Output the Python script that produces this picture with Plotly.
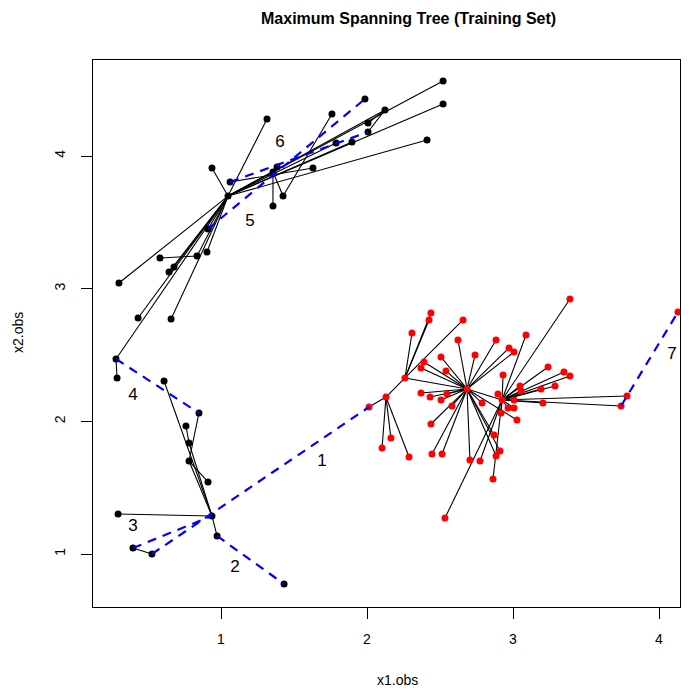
import plotly.graph_objects as go

# ---------------- data (x1.obs, x2.obs) ----------------
# upper cluster (black)
a_x1 = [1.048, 1.315, 0.938, 1.062, 1.356, 1.384, 1.425, 1.356, 1.630, 1.760,
        1.986, 2.007, 2.007, 1.897, 1.788, 2.123, 2.521, 2.521, 2.411, 0.911,
        0.904, 0.836, 0.582, 0.678, 0.644, 0.301, 0.432, 0.658, 0.281, 0.288]
a_x2 = [3.698, 4.279, 3.910, 3.804, 3.879, 3.917, 3.698, 3.623, 3.910, 4.317,
        4.430, 4.249, 4.181, 4.106, 4.098, 4.347, 4.565, 4.392, 4.121, 3.450,
        3.276, 3.246, 3.231, 3.163, 3.126, 3.043, 2.779, 2.771, 2.470, 2.327]
# lower-left cluster (black)
b_x1 = [0.610, 0.849, 0.760, 0.781, 0.781, 0.911, 0.938, 0.295, 0.973, 0.397, 0.527, 1.432]
b_x2 = [2.304, 2.063, 1.965, 1.837, 1.701, 1.543, 1.287, 1.302, 1.136, 1.045, 1.000, 0.774]
# right cluster (red); last two entries are the two hubs H1, H2
r_x1 = [2.014, 2.130, 2.103, 2.164, 2.288, 2.260, 2.308, 2.425, 2.438, 2.658,
        2.623, 2.740, 2.884, 2.973, 3.007, 2.507, 2.390, 2.370, 2.541, 2.370,
        2.432, 2.507, 2.548, 2.582, 2.438, 2.445, 2.514, 2.705, 2.774, 2.534,
        2.863, 2.884, 2.911, 2.870, 2.788, 2.897, 2.932, 3.089, 3.390, 3.240,
        3.349, 3.390, 3.288, 3.192, 3.048, 3.055, 3.007, 3.205, 2.966, 3.007,
        2.918, 3.027, 3.781, 3.740, 4.130, 2.685, 2.925]
r_x2 = [2.108, 2.183, 1.799, 1.874, 1.731, 2.327, 2.666, 2.764, 2.817, 2.764,
        2.613, 2.500, 2.613, 2.553, 2.523, 2.485, 2.447, 2.402, 2.379, 2.214,
        2.183, 2.161, 2.206, 2.116, 1.980, 1.754, 1.754, 1.709, 1.701, 1.271,
        1.565, 1.739, 1.776, 1.897, 2.138, 2.206, 2.349, 2.651, 2.922, 2.410,
        2.372, 2.342, 2.266, 2.244, 2.266, 2.229, 2.161, 2.138, 2.101, 2.101,
        2.063, 2.010, 2.191, 2.116, 2.824, 2.244, 2.161]

# tree edges within clusters (black)
black_edges = [
    "A0-A1", "A0-A2", "A3-A8", "A0-A4", "A4-A5", "A4-A6", "A6-A9", "A4-A7",
    "A0-A16", "A0-A17", "A0-A18", "A0-A15", "A0-A14", "A0-A13", "A15-A11", "A15-A12",
    "A0-A19", "A0-A20", "A0-A21", "A21-A22", "A0-A23", "A0-A24", "A0-A25", "A0-A26",
    "A0-A27", "A0-A28", "A28-A29",
    "B0-B6", "B1-B4", "B2-B3", "B3-B6", "B4-B6", "B4-B5", "B6-B7", "B6-B8", "B9-B10",
    "R0-R1", "R1-R2", "R1-R3", "R1-R4", "R1-R5", "R5-R6", "R5-R7", "R5-R8", "R5-R9", "R5-R55",
    "R55-R10", "R55-R11", "R55-R12", "R55-R13", "R55-R14", "R55-R15", "R55-R16", "R55-R17",
    "R55-R18", "R55-R19", "R55-R20", "R55-R21", "R55-R22", "R55-R23", "R55-R24", "R55-R25",
    "R55-R26", "R55-R27", "R55-R31", "R55-R32", "R55-R33", "R55-R34", "R55-R51", "R55-R56",
    "R56-R28", "R56-R29", "R56-R30", "R56-R35", "R56-R36", "R56-R37", "R56-R38", "R56-R39",
    "R56-R40", "R56-R41", "R56-R42", "R56-R43", "R56-R44", "R56-R45", "R56-R46", "R56-R47",
    "R56-R48", "R56-R49", "R56-R50", "R56-R52", "R56-R53",
]
# edges linking clusters (blue dashed), with their labels
blue_edges = ["B10-R0", "B8-B11", "B9-B6", "A28-B1", "A19-A10", "A3-A12", "R53-R54"]
blue_labels = ["1", "2", "3", "4", "5", "6", "7"]
label_x1 = [1.692, 1.096, 0.397, 0.397, 1.199, 1.404, 4.089]
label_x2 = [1.693, 0.894, 1.204, 2.191, 3.503, 4.098, 2.500]

# ---------------- figure ----------------
groups = {"A": (a_x1, a_x2), "B": (b_x1, b_x2), "R": (r_x1, r_x2)}


def pt(code):
    g, i = code[0], int(code[1:])
    return groups[g][0][i], groups[g][1][i]


def seg_xy(edges):
    xs, ys = [], []
    for e in edges:
        p, q = e.split("-")
        (x0, y0), (x1, y1) = pt(p), pt(q)
        xs += [x0, x1, None]
        ys += [y0, y1, None]
    return xs, ys


FONT = "Liberation Sans, Arial, Helvetica, sans-serif"
fig = go.Figure()

bx, by = seg_xy(black_edges)
fig.add_trace(go.Scatter(x=bx, y=by, mode="lines", line=dict(color="black", width=1.1),
                         hoverinfo="skip", showlegend=False))
fig.add_trace(go.Scatter(x=a_x1 + b_x1, y=a_x2 + b_x2, mode="markers",
                         marker=dict(color="black", size=7), showlegend=False))
fig.add_trace(go.Scatter(x=r_x1, y=r_x2, mode="markers",
                         marker=dict(color="#ff0000", size=7), showlegend=False))
ux, uy = seg_xy(blue_edges)
fig.add_trace(go.Scatter(x=ux, y=uy, mode="lines",
                         line=dict(color="#0000ff", width=2.2, dash="9px,7px"),
                         hoverinfo="skip", showlegend=False))
fig.add_trace(go.Scatter(x=label_x1, y=label_x2, mode="text", text=blue_labels,
                         textfont=dict(family=FONT, size=17, color="black"),
                         showlegend=False))

# page pixels of the plot box (the html body adds an 8px offset)
OFF = 8
L, R, T, B = 93, 680, 60, 607
W, H = 692 - OFF, 690 - OFF


def px_x(p):
    return 1 + (p - 221) / 146.0


def px_y(p):
    return 4 - (p - 156) / 132.67


axis_common = dict(showgrid=False, zeroline=False, showline=True, mirror=True,
                   linecolor="black", linewidth=1, ticks="outside", ticklen=11,
                   tickcolor="black", tickwidth=1,
                   tickfont=dict(family=FONT, size=14, color="black"))
fig.update_layout(
    width=W, height=H,
    margin=dict(l=L - OFF, r=(W + OFF) - R, t=T - OFF, b=(H + OFF) - B, pad=0),
    plot_bgcolor="white", paper_bgcolor="white",
    xaxis=dict(range=[px_x(L), px_x(R)], tickvals=[1, 2, 3, 4], ticktext=["1", "2", "3", "4"],
               ticklabelstandoff=8, **axis_common),
    yaxis=dict(range=[px_y(B), px_y(T)], tickvals=[1, 2, 3, 4], ticktext=["1", "2", "3", "4"],
               tickangle=-90, ticklabelstandoff=10, **axis_common),
    annotations=[
        dict(text="<b>Maximum Spanning Tree (Training Set)</b>", xref="paper", yref="paper",
             x=(408 - L) / (R - L), y=(B - 18) / (B - T), xanchor="center", yanchor="middle",
             showarrow=False, font=dict(family=FONT, size=16, color="black")),
        dict(text="x1.obs", xref="paper", yref="paper",
             x=(397 - L) / (R - L), y=(B - 680) / (B - T), xanchor="center", yanchor="middle",
             showarrow=False, font=dict(family=FONT, size=14, color="black")),
        dict(text="x2.obs", xref="paper", yref="paper", textangle=-90,
             x=(18 - L) / (R - L), y=(B - 333) / (B - T), xanchor="center", yanchor="middle",
             showarrow=False, font=dict(family=FONT, size=14, color="black")),
    ],
)

fig.write_html("out.html")
